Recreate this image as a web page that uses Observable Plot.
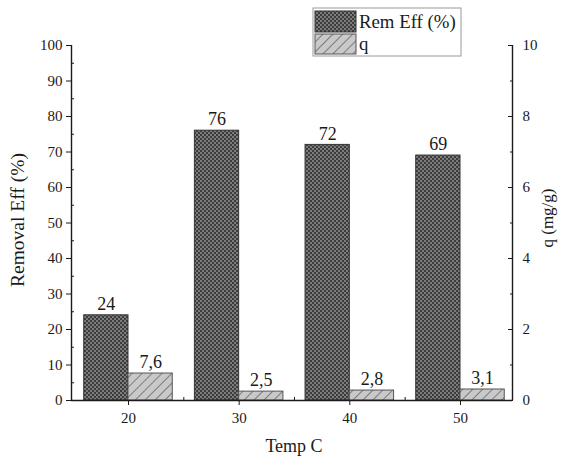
<!DOCTYPE html>
<html>
<head>
<meta charset="utf-8">
<script src="https://cdn.jsdelivr.net/npm/d3@7"></script>
<script src="https://cdn.jsdelivr.net/npm/@observablehq/plot@0.6"></script>
<style>
  html, body { margin: 0; padding: 0; background: #fff; }
  #chart { position: relative; width: 561px; height: 459px; }
</style>
</head>
<body>
<div id="chart"></div>
<script>
// Data
const temps = [20, 30, 40, 50];
const removalEff = [24, 76, 72, 69];
const qValues = [7.6, 2.5, 2.8, 3.1];
const qLabels = ["7,6", "2,5", "2,8", "3,1"];
const leftTicks = [0, 10, 20, 30, 40, 50, 60, 70, 80, 90, 100];
const rightTicks = [0, 2, 4, 6, 8, 10];
const xTicks = [20, 30, 40, 50];
const xMinor = [25, 35, 45];

const rows = temps.map((t, i) => ({t, eff: removalEff[i], q: qValues[i], qLabel: qLabels[i]}));
const halfWidth = 4;
const xDomain = [14.85, 54.7];
const ink = "#1a1a1a";
const serif = "'Liberation Serif', 'Times New Roman', serif";

const plot = Plot.plot({
  width: 561,
  height: 459,
  marginLeft: 71,
  marginRight: 49,
  marginTop: 45,
  marginBottom: 59,
  style: {fontFamily: serif, fontSize: "15px", color: ink, background: "#fff"},
  x: {domain: xDomain},
  y: {domain: [0, 100]},
  marks: [
    Plot.rectY(rows, {x1: d => d.t - halfWidth, x2: d => d.t, y: "eff", fill: "url(#xhatch)", stroke: "#333", strokeWidth: 1}),
    Plot.rectY(rows, {x1: d => d.t, x2: d => d.t + halfWidth, y: "q", fill: "url(#dhatch)", stroke: "#555", strokeWidth: 1}),
    Plot.text(rows, {x: d => d.t - halfWidth / 2, y: "eff", text: d => String(d.eff), dy: -11, fontSize: 18, fill: ink, fontFamily: serif}),
    Plot.text(rows, {x: d => d.t + halfWidth / 2, y: "q", text: "qLabel", dy: -11, fontSize: 18, fill: ink, fontFamily: serif}),
    // axis lines
    Plot.ruleY([0], {x1: xDomain[0], x2: xDomain[1], stroke: ink, strokeWidth: 1.4}),
    Plot.ruleX([xDomain[0], xDomain[1]], {y1: 0, y2: 100, stroke: ink, strokeWidth: 1.4}),
    // left axis
    Plot.axisY(leftTicks, {anchor: "left", tickSize: 5, tickPadding: 4, label: null, stroke: ink, fill: ink, fontFamily: serif}),
    Plot.axisY(d3.range(5, 100, 10), {anchor: "left", tickSize: -3, tickFormat: () => "", label: null, stroke: ink}),
    // right axis (q scale: value * 10 on the shared vertical scale)
    Plot.axisY(rightTicks.map(v => v * 10), {anchor: "right", tickSize: -5, tickPadding: 15, tickFormat: d => String(d / 10), label: null, stroke: ink, fill: ink, fontFamily: serif}),
    Plot.axisY([10, 30, 50, 70, 90], {anchor: "right", tickSize: -3, tickFormat: () => "", label: null, stroke: ink}),
    // bottom axis
    Plot.axisX(xTicks, {anchor: "bottom", tickSize: 5, tickPadding: 7, label: null, stroke: ink, fill: ink, fontFamily: serif}),
    Plot.axisX(xMinor, {anchor: "bottom", tickSize: -3, tickFormat: () => "", label: null, stroke: ink})
  ]
});

document.getElementById("chart").appendChild(plot);

const svg = d3.select(plot);
const defs = svg.insert("defs", ":first-child");
const xh = defs.append("pattern").attr("id", "xhatch").attr("patternUnits", "userSpaceOnUse").attr("width", 4).attr("height", 4);
xh.append("rect").attr("width", 4).attr("height", 4).attr("fill", "#3c3c3c");
xh.append("rect").attr("x", 0).attr("y", 0).attr("width", 2).attr("height", 2).attr("fill", "#7c7c7c");
xh.append("rect").attr("x", 2).attr("y", 2).attr("width", 2).attr("height", 2).attr("fill", "#7c7c7c");
const dh = defs.append("pattern").attr("id", "dhatch").attr("patternUnits", "userSpaceOnUse").attr("width", 7).attr("height", 7).attr("patternTransform", "rotate(45)");
dh.append("rect").attr("width", 7).attr("height", 7).attr("fill", "#c9c9c9");
dh.append("line").attr("x1", 0).attr("y1", 0).attr("x2", 0).attr("y2", 7).attr("stroke", "#6a6a6a").attr("stroke-width", 1.6);

// axis titles
svg.append("text").attr("transform", "translate(24,220) rotate(-90)").attr("text-anchor", "middle")
  .attr("font-family", serif).attr("font-size", 19.5).attr("fill", ink).text("Removal Eff (%)");
svg.append("text").attr("transform", "translate(553,218) rotate(-90)").attr("text-anchor", "middle")
  .attr("font-family", serif).attr("font-size", 17).attr("fill", ink).text("q (mg/g)");
svg.append("text").attr("x", 294).attr("y", 452).attr("text-anchor", "middle")
  .attr("font-family", serif).attr("font-size", 18).attr("fill", ink).text("Temp C");

// legend
const lg = svg.append("g");
lg.append("rect").attr("x", 313).attr("y", 8).attr("width", 148).attr("height", 48).attr("fill", "#fff").attr("stroke", "#999");
lg.append("rect").attr("x", 315).attr("y", 11).attr("width", 41).attr("height", 21).attr("fill", "url(#xhatch)").attr("stroke", "#333");
lg.append("rect").attr("x", 315).attr("y", 34).attr("width", 41).attr("height", 20).attr("fill", "url(#dhatch)").attr("stroke", "#555");
lg.append("text").attr("x", 359).attr("y", 28).attr("text-anchor", "start").attr("font-family", serif).attr("font-size", 18.8).attr("fill", ink).text("Rem Eff (%)");
lg.append("text").attr("x", 359).attr("y", 50).attr("text-anchor", "start").attr("font-family", serif).attr("font-size", 18.8).attr("fill", ink).text("q");
</script>
</body>
</html>
